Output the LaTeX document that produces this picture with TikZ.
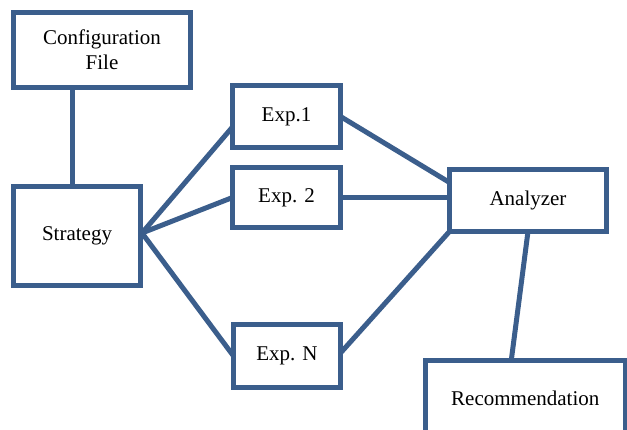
\documentclass[tikz,border=0pt]{standalone}
\usepackage{fontspec}
\setmainfont{Liberation Serif}
\usetikzlibrary{calc}
\definecolor{boxblue}{RGB}{59,94,140}
\tikzset{
  box/.style={draw=boxblue, line width=5pt, rectangle, fill=white, inner sep=0pt, outer sep=0pt,
    font=\fontsize{21}{25}\selectfont, align=center},
  link/.style={draw=boxblue, line width=5pt}
}
\begin{document}
\begin{tikzpicture}[x=1pt,y=-1pt]
\useasboundingbox (0,0) rectangle (627,430);
\clip (0,0) rectangle (627,430);
\node[box, minimum width=177pt, minimum height=75pt] (cfg) at (102,50) {Configuration\\File};
\node[box, minimum width=127pt, minimum height=99pt] (strat) at (77,236) {Strategy};
\node[box, minimum width=108pt, minimum height=62pt] (e1) at (286.5,116.5) {Exp.1};
\node[box, minimum width=108pt, minimum height=60pt] (e2) at (286.5,197.5) {Exp. 2};
\node[box, minimum width=107pt, minimum height=63pt] (en) at (287,356) {Exp. N};
\node[box, minimum width=157pt, minimum height=62pt] (an) at (528,200.5) {Analyzer};
\node[box, minimum width=199.5pt, minimum height=75pt] (rec) at (525.25,398) {Recommendation};
\coordinate (sp) at (142,233);
\draw[link] ($(strat.north)+(-5,0)$) -- ($(strat.north |- cfg.south)+(-5,0)$);
\draw[link] (sp) -- ($(e1.west)+(0,10.5)$);
\draw[link] (sp) -- (e2.west);
\draw[link] (sp) -- (en.west);
\draw[link] (e1.east) -- ($(an.west)+(0,-18)$);
\draw[link] (e2.east) -- (e2.east -| an.west);
\draw[link] ($(en.east)+(0,-3)$) -- (an.south west);
\draw[link] (an.south) -- ($(rec.north)+(-14,0)$);
\end{tikzpicture}
\end{document}
